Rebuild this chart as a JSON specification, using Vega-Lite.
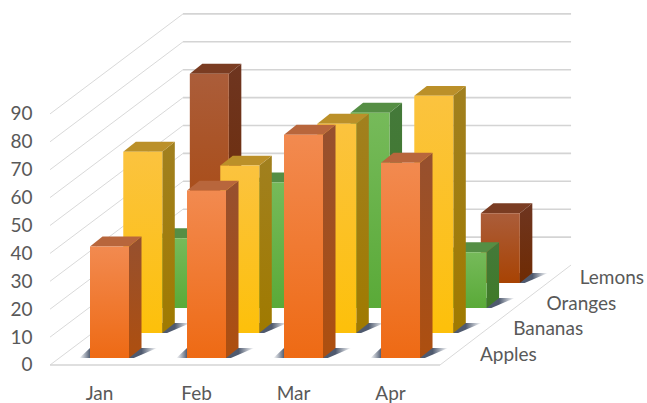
{"$schema":"https://vega.github.io/schema/vega-lite/v6.json","width":647,"height":403,"padding":0,"autosize":{"type":"fit","contains":"padding"},"background":"white","config":{"view":{"stroke":null},"font":"Lato"},
"layer":[
{"data":{"values":[{"v":10},{"v":20},{"v":30},{"v":40},{"v":50},{"v":60},{"v":70},{"v":80},{"v":90}]},"transform":[{"calculate":"datum.v+35.84","as":"vb"}],"mark":{"type":"rule","color":"#d4d4d4","strokeWidth":1.6},"encoding":{
"x":{"datum":0.959,"type":"quantitative","scale":{"domain":[-0.9278,5.742],"nice":false,"zero":false},"axis":{"title":null,"values":[0,1,2,3],"labelExpr":"['Jan','Feb','Mar','Apr'][datum.value]","labelOffset":9,"labelPadding":0,"labelBaseline":"middle","offset":-10,"ticks":false,"domain":false,"grid":false,"labelFontSize":19,"labelColor":"#595959","labelFont":"Lato","labelFlush":false,"labelOverlap":false}},
"x2":{"datum":4.959},
"y":{"field":"vb","type":"quantitative","scale":{"domain":[-13.62,130.82],"nice":false,"zero":false},"axis":{"title":null,"values":[0,10,20,30,40,50,60,70,80,90],"orient":"left","offset":-32,"labelPadding":0,"ticks":false,"domain":false,"grid":false,"labelFontSize":19,"labelColor":"#595959","labelFont":"Lato","labelOverlap":false,"labelFlush":false}},
"y2":{"field":"vb"}}},
{"data":{"values":[{"v":0},{"v":10},{"v":20},{"v":30},{"v":40},{"v":50},{"v":60},{"v":70},{"v":80},{"v":90}]},"transform":[{"calculate":"datum.v+35.84","as":"vb"}],"mark":{"type":"rule","color":"#d9d9d9","strokeWidth":1},"encoding":{"x":{"datum":-0.412,"type":"quantitative"},"x2":{"datum":0.959},"y":{"field":"v","type":"quantitative"},"y2":{"field":"vb"}}},
{"data":{"values":[{"edge":"front"}]},"mark":{"type":"rule","color":"#d4d4d4","strokeWidth":1.6},"encoding":{"x":{"datum":-0.412,"type":"quantitative"},"x2":{"datum":3.608},"y":{"datum":0,"type":"quantitative"},"y2":{"datum":0}}},
{"data":{"values":[{"edge":"right"}]},"mark":{"type":"rule","color":"#d9d9d9","strokeWidth":1},"encoding":{"x":{"datum":3.608,"type":"quantitative"},"x2":{"datum":4.959},"y":{"datum":0,"type":"quantitative"},"y2":{"datum":35.84}}},
{"data":{"values":[{"series":"Apples"},{"series":"Bananas"},{"series":"Oranges"},{"series":"Lemons"}]},"transform":[{"calculate":"indexof(['Apples','Bananas','Oranges','Lemons'],datum.series)","as":"d"},{"calculate":"4.02+0.343*datum.d","as":"lx"},{"calculate":"3.6+9.2*datum.d","as":"ly"}],"mark":{"type":"text","align":"left","baseline":"middle","font":"Lato","fontSize":19,"color":"#595959"},"encoding":{"x":{"field":"lx","type":"quantitative"},"y":{"field":"ly","type":"quantitative"},"text":{"field":"series"}}},
{"data":{"values":[
{"month":"Jan","series":"Apples","value":40},{"month":"Feb","series":"Apples","value":60},{"month":"Mar","series":"Apples","value":80},{"month":"Apr","series":"Apples","value":70},
{"month":"Jan","series":"Bananas","value":65},{"month":"Feb","series":"Bananas","value":60},{"month":"Mar","series":"Bananas","value":75},{"month":"Apr","series":"Bananas","value":85},
{"month":"Jan","series":"Oranges","value":25},{"month":"Feb","series":"Oranges","value":45},{"month":"Mar","series":"Oranges","value":70},{"month":"Apr","series":"Oranges","value":20},
{"month":"Jan","series":"Lemons","value":75},{"month":"Feb","series":"Lemons","value":40},{"month":"Mar","series":"Lemons","value":30},{"month":"Apr","series":"Lemons","value":25}]},
"transform":[
{"calculate":"indexof(['Jan','Feb','Mar','Apr'],datum.month)","as":"m"},
{"calculate":"indexof(['Apples','Bananas','Oranges','Lemons'],datum.series)","as":"d"},
{"calculate":"[0,1]","as":"t"},{"flatten":["t"]},
{"calculate":"datum.m+0.343*datum.d","as":"x0"},
{"calculate":"datum.x0+0.402","as":"x1"},
{"calculate":"2.5+8.96*datum.d","as":"b"},
{"calculate":"datum.b+datum.value","as":"h"},
{"calculate":"datum.x1+0.129*datum.t","as":"sx"},
{"calculate":"datum.b+3.58*datum.t","as":"sb"},
{"calculate":"datum.h+3.58*datum.t","as":"st"},
{"calculate":"datum.x0+0.129*datum.t","as":"tx0"},
{"calculate":"datum.x0-0.11+0.11*datum.t","as":"sl"},
{"calculate":"datum.x1+0.05+0.24*datum.t","as":"sr"}],
"layer":[
{"transform":[{"filter":"datum.series=='Lemons'"}],"mark":{"type":"area","orient":"horizontal","fill":{"gradient":"linear","x1":0,"y1":0,"x2":1,"y2":0,"stops":[{"offset":0,"color":"rgba(70,85,110,0)"},{"offset":0.14,"color":"rgba(60,72,95,0.9)"},{"offset":0.8,"color":"rgba(60,72,95,0.9)"},{"offset":1,"color":"rgba(70,85,110,0)"}]}},"encoding":{"y":{"field":"sb","type":"quantitative"},"x":{"field":"sl","type":"quantitative"},"x2":{"field":"sr"},"detail":{"field":"month"}}},
{"transform":[{"filter":"datum.series=='Lemons'"}],"mark":{"type":"area","orient":"vertical","fill":{"gradient":"linear","x1":0,"y1":0,"x2":0,"y2":1,"stops":[{"offset":0,"color":"#6e3520"},{"offset":1,"color":"#6f2b03"}]}},"encoding":{"x":{"field":"sx","type":"quantitative"},"y":{"field":"sb","type":"quantitative"},"y2":{"field":"st"},"detail":{"field":"month"}}},
{"transform":[{"filter":"datum.series=='Lemons'"}],"mark":{"type":"area","orient":"horizontal","fill":"#7a3c22"},"encoding":{"y":{"field":"st","type":"quantitative"},"x":{"field":"tx0","type":"quantitative"},"x2":{"field":"sx"},"detail":{"field":"month"}}},
{"transform":[{"filter":"datum.series=='Lemons' && datum.t==0"}],"mark":{"type":"rect","fill":{"gradient":"linear","x1":0,"y1":0,"x2":0,"y2":1,"stops":[{"offset":0,"color":"#ab5d3a"},{"offset":1,"color":"#a84303"}]}},"encoding":{"x":{"field":"x0","type":"quantitative"},"x2":{"field":"x1"},"y":{"field":"b","type":"quantitative"},"y2":{"field":"h"}}},

{"transform":[{"filter":"datum.series=='Oranges'"}],"mark":{"type":"area","orient":"horizontal","fill":{"gradient":"linear","x1":0,"y1":0,"x2":1,"y2":0,"stops":[{"offset":0,"color":"rgba(70,85,110,0)"},{"offset":0.14,"color":"rgba(60,72,95,0.9)"},{"offset":0.8,"color":"rgba(60,72,95,0.9)"},{"offset":1,"color":"rgba(70,85,110,0)"}]}},"encoding":{"y":{"field":"sb","type":"quantitative"},"x":{"field":"sl","type":"quantitative"},"x2":{"field":"sr"},"detail":{"field":"month"}}},
{"transform":[{"filter":"datum.series=='Oranges'"}],"mark":{"type":"area","orient":"vertical","fill":{"gradient":"linear","x1":0,"y1":0,"x2":0,"y2":1,"stops":[{"offset":0,"color":"#44793a"},{"offset":1,"color":"#3f7a27"}]}},"encoding":{"x":{"field":"sx","type":"quantitative"},"y":{"field":"sb","type":"quantitative"},"y2":{"field":"st"},"detail":{"field":"month"}}},
{"transform":[{"filter":"datum.series=='Oranges'"}],"mark":{"type":"area","orient":"horizontal","fill":"#558e44"},"encoding":{"y":{"field":"st","type":"quantitative"},"x":{"field":"tx0","type":"quantitative"},"x2":{"field":"sx"},"detail":{"field":"month"}}},
{"transform":[{"filter":"datum.series=='Oranges' && datum.t==0"}],"mark":{"type":"rect","fill":{"gradient":"linear","x1":0,"y1":0,"x2":0,"y2":1,"stops":[{"offset":0,"color":"#76ba5a"},{"offset":1,"color":"#5aaa38"}]}},"encoding":{"x":{"field":"x0","type":"quantitative"},"x2":{"field":"x1"},"y":{"field":"b","type":"quantitative"},"y2":{"field":"h"}}},

{"transform":[{"filter":"datum.series=='Bananas'"}],"mark":{"type":"area","orient":"horizontal","fill":{"gradient":"linear","x1":0,"y1":0,"x2":1,"y2":0,"stops":[{"offset":0,"color":"rgba(70,85,110,0)"},{"offset":0.14,"color":"rgba(60,72,95,0.9)"},{"offset":0.8,"color":"rgba(60,72,95,0.9)"},{"offset":1,"color":"rgba(70,85,110,0)"}]}},"encoding":{"y":{"field":"sb","type":"quantitative"},"x":{"field":"sl","type":"quantitative"},"x2":{"field":"sr"},"detail":{"field":"month"}}},
{"transform":[{"filter":"datum.series=='Bananas'"}],"mark":{"type":"area","orient":"vertical","fill":{"gradient":"linear","x1":0,"y1":0,"x2":0,"y2":1,"stops":[{"offset":0,"color":"#a1801f"},{"offset":1,"color":"#a07a00"}]}},"encoding":{"x":{"field":"sx","type":"quantitative"},"y":{"field":"sb","type":"quantitative"},"y2":{"field":"st"},"detail":{"field":"month"}}},
{"transform":[{"filter":"datum.series=='Bananas'"}],"mark":{"type":"area","orient":"horizontal","fill":"#bb9029"},"encoding":{"y":{"field":"st","type":"quantitative"},"x":{"field":"tx0","type":"quantitative"},"x2":{"field":"sx"},"detail":{"field":"month"}}},
{"transform":[{"filter":"datum.series=='Bananas' && datum.t==0"}],"mark":{"type":"rect","fill":{"gradient":"linear","x1":0,"y1":0,"x2":0,"y2":1,"stops":[{"offset":0,"color":"#fbc33f"},{"offset":1,"color":"#fdc00a"}]}},"encoding":{"x":{"field":"x0","type":"quantitative"},"x2":{"field":"x1"},"y":{"field":"b","type":"quantitative"},"y2":{"field":"h"}}},

{"transform":[{"filter":"datum.series=='Apples'"}],"mark":{"type":"area","orient":"horizontal","fill":{"gradient":"linear","x1":0,"y1":0,"x2":1,"y2":0,"stops":[{"offset":0,"color":"rgba(70,85,110,0)"},{"offset":0.14,"color":"rgba(60,72,95,0.9)"},{"offset":0.8,"color":"rgba(60,72,95,0.9)"},{"offset":1,"color":"rgba(70,85,110,0)"}]}},"encoding":{"y":{"field":"sb","type":"quantitative"},"x":{"field":"sl","type":"quantitative"},"x2":{"field":"sr"},"detail":{"field":"month"}}},
{"transform":[{"filter":"datum.series=='Apples'"}],"mark":{"type":"area","orient":"vertical","fill":{"gradient":"linear","x1":0,"y1":0,"x2":0,"y2":1,"stops":[{"offset":0,"color":"#96502f"},{"offset":1,"color":"#ae4f0f"}]}},"encoding":{"x":{"field":"sx","type":"quantitative"},"y":{"field":"sb","type":"quantitative"},"y2":{"field":"st"},"detail":{"field":"month"}}},
{"transform":[{"filter":"datum.series=='Apples'"}],"mark":{"type":"area","orient":"horizontal","fill":"#b8663c"},"encoding":{"y":{"field":"st","type":"quantitative"},"x":{"field":"tx0","type":"quantitative"},"x2":{"field":"sx"},"detail":{"field":"month"}}},
{"transform":[{"filter":"datum.series=='Apples' && datum.t==0"}],"mark":{"type":"rect","fill":{"gradient":"linear","x1":0,"y1":0,"x2":0,"y2":1,"stops":[{"offset":0,"color":"#f28a50"},{"offset":1,"color":"#ee6a14"}]}},"encoding":{"x":{"field":"x0","type":"quantitative"},"x2":{"field":"x1"},"y":{"field":"b","type":"quantitative"},"y2":{"field":"h"}}}
]}
]}
